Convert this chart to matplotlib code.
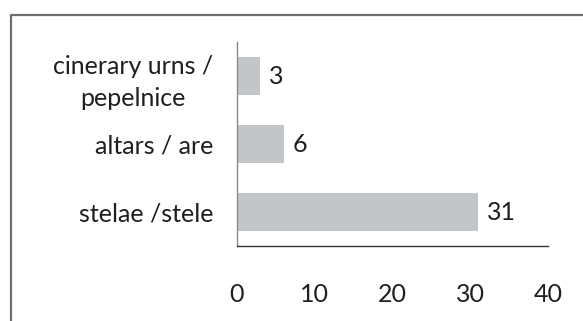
import matplotlib
matplotlib.use("Agg")
import matplotlib.pyplot as plt
from matplotlib.lines import Line2D

plt.rcParams["font.family"] = ["Lato", "DejaVu Sans"]

categories = ["stelae /stele", "altars / are", "cinerary urns /\npepelnice"]
counts = [31, 6, 3]
xticks = [0, 10, 20, 30, 40]

BAR = "#C3C6C8"
TEXT = "#1f1f1f"
FS = 18

fig = plt.figure(figsize=(5.83, 3.21), dpi=100)
ax = fig.add_axes([237 / 583, 1 - 246 / 321, (548 - 237) / 583, (246 - 42) / 321])

pos = range(len(categories))
ax.barh(list(pos), counts, height=0.57, color=BAR)
for p, v in zip(pos, counts):
    ax.text(v + 1.1, p, str(v), va="center", ha="left", fontsize=FS, color=TEXT)

ax.set_ylim(-0.5, len(categories) - 0.5)
ax.set_xlim(0, 40)
ax.set_xticks(xticks)
ax.set_yticks(list(pos))
ax.set_yticklabels(categories, multialignment="center", linespacing=1.45)
ax.tick_params(axis="x", length=0, pad=27, labelsize=FS, labelcolor=TEXT)
ax.tick_params(axis="y", length=0, pad=17, labelsize=FS, labelcolor=TEXT)

for s in ("top", "right"):
    ax.spines[s].set_visible(False)
ax.spines["left"].set_color("#8a8a8a")
ax.spines["bottom"].set_color("#333333")
ax.spines["left"].set_linewidth(1.0)
ax.spines["bottom"].set_linewidth(1.0)

# outer frame (left and top edges only visible in crop)
fx = 11 / 583
fy = 1 - 15 / 321
fig.add_artist(Line2D([fx, fx, 1.0], [0.0, fy, fy], transform=fig.transFigure,
                      color="#6e6e6e", linewidth=1.6))

fig.savefig("out.png", dpi=100)
